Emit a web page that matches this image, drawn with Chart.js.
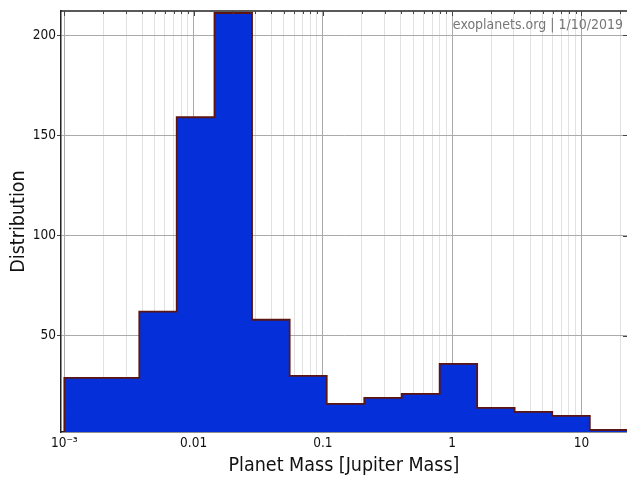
<!DOCTYPE html>
<html>
<head>
<meta charset="utf-8">
<script src="https://cdn.jsdelivr.net/npm/chart.js@4/dist/chart.umd.min.js"></script>
<style>
  html, body { margin: 0; padding: 0; background: #fff; }
  #wrap { width: 627px; height: 478px; }
</style>
</head>
<body>
<div id="wrap"><canvas id="hist"></canvas></div>
<script>
// left bin edges (Jupiter masses) and counts per bin
const binEdges = [0.001, 0.0038, 0.0074, 0.0145, 0.0283, 0.0553, 0.107, 0.209, 0.407, 0.80, 1.56, 3.04, 5.94, 11.6];
const lastEdge = 22.7;
const counts = [29, 62, 159, 211, 58, 30, 16, 19, 21, 36, 14, 12, 10, 3];
const decadeLabels = {"-3": "10\u207B\u00B3", "-2": "0.01", "-1": "0.1", "0": "1", "1": "10"};
const yTicks = [50, 100, 150, 200];

const FONT = "'DejaVu Sans Condensed', 'DejaVu Sans', sans-serif";

const points = [{x: binEdges[0], y: 0}];
binEdges.forEach((e, i) => points.push({x: e, y: counts[i]}));
points.push({x: lastEdge, y: counts[counts.length - 1]});

function isDecade(v) {
  const l = Math.log10(v);
  return Math.abs(l - Math.round(l)) < 1e-6;
}

const frame = {
  id: 'frame',
  afterDraw(chart) {
    const {ctx, chartArea: a, scales} = chart;
    ctx.save();
    ctx.strokeStyle = '#222';
    ctx.lineWidth = 1.5;
    ctx.beginPath();
    ctx.moveTo(a.left, a.top);
    ctx.lineTo(a.right, a.top);
    ctx.stroke();
    // inward ticks along the top and right edges
    ctx.lineWidth = 1;
    ctx.strokeStyle = '#444';
    ctx.beginPath();
    scales.x.ticks.forEach(t => {
      const px = Math.round(scales.x.getPixelForValue(t.value)) + 0.5;
      const len = isDecade(t.value) ? 5 : 3;
      ctx.moveTo(px, a.top);
      ctx.lineTo(px, a.top + len);
    });
    scales.y.ticks.forEach(t => {
      const py = Math.round(scales.y.getPixelForValue(t.value)) + 0.5;
      ctx.moveTo(a.right, py);
      ctx.lineTo(a.right - 4, py);
    });
    ctx.stroke();
    ctx.fillStyle = '#777';
    ctx.font = "14px " + FONT;
    ctx.textAlign = 'right';
    ctx.textBaseline = 'middle';
    ctx.fillText('exoplanets.org | 1/10/2019', a.right - 4, a.top + 14);
    ctx.restore();
  }
};

new Chart(document.getElementById('hist'), {
  type: 'line',
  data: {
    datasets: [{
      data: points,
      stepped: 'before',
      fill: 'origin',
      backgroundColor: '#0530d9',
      borderColor: '#5b1512',
      borderWidth: 1.8,
      pointRadius: 0,
      tension: 0
    }]
  },
  options: {
    responsive: true,
    maintainAspectRatio: false,
    animation: false,
    layout: { padding: { top: 11, right: 0, left: 0, bottom: 0 } },
    plugins: { legend: { display: false }, tooltip: { enabled: false } },
    scales: {
      x: {
        type: 'logarithmic',
        min: 0.000942,
        max: 22.5,
        afterBuildTicks(scale) {
          const list = [];
          for (let d = -4; d <= 1; d++) {
            for (let k = 1; k <= 9; k++) {
              const v = k * Math.pow(10, d);
              if (v >= scale.min && v <= scale.max) list.push({value: v});
            }
          }
          scale.ticks = list;
        },
        afterFit(scale) { scale.height = 46; },
        ticks: {
          autoSkip: false,
          maxRotation: 0,
          padding: 3,
          color: '#111',
          font: { family: FONT, size: 13.5 },
          callback(v) {
            if (!isDecade(v)) return '';
            return decadeLabels[String(Math.round(Math.log10(v)))] || '';
          }
        },
        grid: {
          drawTicks: false,
          color: ctx => (ctx.tick && isDecade(ctx.tick.value)) ? '#aaaaaa' : '#e2e2e2',
          lineWidth: 1
        },
        border: { color: '#222', width: 1.5 },
        title: {
          display: true,
          text: 'Planet Mass [Jupiter Mass]',
          color: '#111',
          font: { family: FONT, size: 19.5 },
          padding: { top: 3, bottom: 0 }
        }
      },
      y: {
        min: 2,
        max: 212,
        afterBuildTicks(scale) {
          scale.ticks = yTicks.map(v => ({value: v}));
        },
        afterFit(scale) { scale.width = 61; },
        ticks: {
          color: '#111',
          padding: 1,
          font: { family: FONT, size: 13.5 }
        },
        grid: {
          color: '#aaaaaa',
          tickColor: '#444',
          tickLength: 4
        },
        border: { color: '#222', width: 1.5 },
        title: {
          display: true,
          text: 'Distribution',
          color: '#111',
          font: { family: FONT, size: 19.5 },
          padding: { top: 7, bottom: 0 }
        }
      }
    }
  },
  plugins: [frame]
});
</script>
</body>
</html>
